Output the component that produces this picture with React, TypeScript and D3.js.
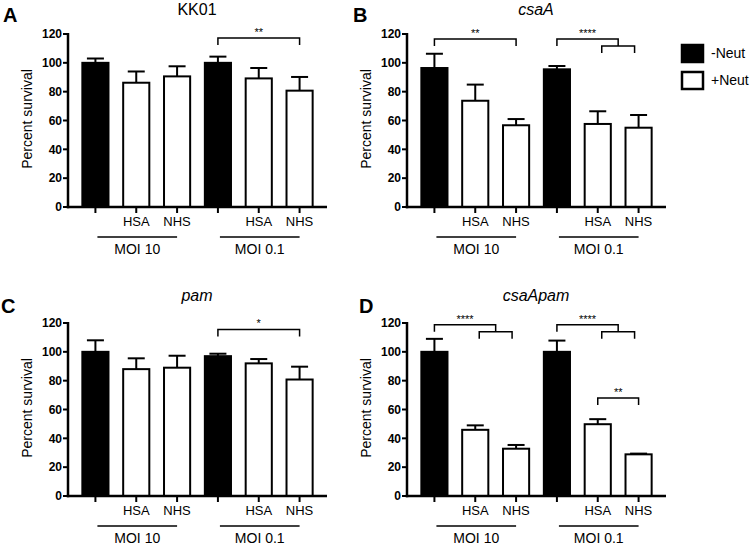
import React from "react";
import * as d3 from "d3";

const categories = ["MOI 10 -Neut", "MOI 10 HSA", "MOI 10 NHS", "MOI 0.1 -Neut", "MOI 0.1 HSA", "MOI 0.1 NHS"];
const catLabels = ["", "HSA", "NHS", "", "HSA", "NHS"];
const neutStatus = ["-Neut", "+Neut", "+Neut", "-Neut", "+Neut", "+Neut"];
const groups = [
  { label: "MOI 10", first: 0, last: 2 },
  { label: "MOI 0.1", first: 3, last: 5 },
];
const yTicks = [0, 20, 40, 60, 80, 100, 120];
const legendItems = ["-Neut", "+Neut"];

const kk01Mean = [100, 86.2, 90.6, 100, 89.2, 80.7];
const kk01Err = [3, 7.8, 7, 4.3, 7.2, 9.5];
const csaAMean = [96.4, 73.7, 56.7, 95.5, 57.6, 55];
const csaAErr = [9.9, 11.2, 4.3, 2.3, 8.8, 8.8];
const pamMean = [100, 88, 89, 97, 92, 80.8];
const pamErr = [8, 7.5, 8.3, 1.7, 3, 8.9];
const csaApamMean = [100, 45.9, 32.8, 100, 49.8, 28.9];
const csaApamErr = [9, 3.1, 2.6, 7.8, 3.5, 0.5];

// significance brackets: simple (a->b) or nested (a -> [b,c])
type Sig = { a: number; b: number; c?: number; level: number; label: string };
const kk01Sig: Sig[] = [{ a: 3, b: 5, level: 117.2, label: "**" }];
const csaASig: Sig[] = [
  { a: 0, b: 2, level: 116.5, label: "**" },
  { a: 3, b: 4, c: 5, level: 116.5, label: "****" },
];
const pamSig: Sig[] = [{ a: 3, b: 5, level: 115.5, label: "*" }];
const csaApamSig: Sig[] = [
  { a: 0, b: 1, c: 2, level: 118.8, label: "****" },
  { a: 3, b: 4, c: 5, level: 118.8, label: "****" },
  { a: 4, b: 5, level: 68, label: "**" },
];

const panels = [
  { letter: "A", title: "KK01", italic: false, mean: kk01Mean, err: kk01Err, sig: kk01Sig, x0: 68, dy: 0, lx: 3 },
  { letter: "B", title: "csaA", italic: true, mean: csaAMean, err: csaAErr, sig: csaASig, x0: 407, dy: 0, lx: 353 },
  { letter: "C", title: "pam", italic: true, mean: pamMean, err: pamErr, sig: pamSig, x0: 68, dy: 289, lx: 1 },
  { letter: "D", title: "csaApam", italic: true, mean: csaApamMean, err: csaApamErr, sig: csaApamSig, x0: 407, dy: 289, lx: 359 },
];

const FONT = "'Liberation Sans', Arial, sans-serif";

function Panel({ p }: { p: (typeof panels)[number] }) {
  const y = d3.scaleLinear().domain([0, 120]).range([207 + p.dy, 34 + p.dy]);
  const x = d3
    .scaleBand<string>()
    .domain(categories)
    .range([p.x0 + 7, p.x0 + 252])
    .paddingInner(0.36)
    .paddingOuter(0.18);
  const bw = x.bandwidth();
  const cx = (i: number) => (x(categories[i]) as number) + bw / 2;
  const y0 = y(0);
  const capW = 17;
  const leg = 7;
  const titleY = p.dy ? 12 + p.dy : 14.5;

  return (
    <g>
      <text x={p.lx} y={22 + p.dy + (p.dy ? 2 : 0)} fontSize={20} fontWeight="bold" fontFamily={FONT}>
        {p.letter}
      </text>
      <text
        x={p.x0 + 129}
        y={titleY}
        fontSize={16}
        fontStyle={p.italic ? "italic" : "normal"}
        textAnchor="middle"
        fontFamily={FONT}
      >
        {p.title}
      </text>
      <text
        transform={`translate(${p.x0 - 36},${119 + p.dy}) rotate(-90)`}
        fontSize={14}
        textAnchor="middle"
        fontFamily={FONT}
      >
        Percent survival
      </text>
      {p.mean.map((m, i) => (
        <g key={i}>
          <line x1={cx(i)} x2={cx(i)} y1={y(m)} y2={y(m + p.err[i])} stroke="#000" strokeWidth={2} />
          <line x1={cx(i) - capW / 2} x2={cx(i) + capW / 2} y1={y(m + p.err[i])} y2={y(m + p.err[i])} stroke="#000" strokeWidth={2} />
          <rect
            x={x(categories[i])}
            y={y(m)}
            width={bw}
            height={y0 - y(m)}
            fill={neutStatus[i] === "-Neut" ? "#000" : "#fff"}
            stroke="#000"
            strokeWidth={2}
          />
        </g>
      ))}
      <line x1={p.x0} x2={p.x0} y1={y(120) - 1} y2={y0 + 1.25} stroke="#000" strokeWidth={2.5} />
      {yTicks.map((t) => (
        <g key={t}>
          <line x1={p.x0 - 5} x2={p.x0} y1={y(t)} y2={y(t)} stroke="#000" strokeWidth={2} />
          <text x={p.x0 - 6} y={y(t) + 4.3} fontSize={12} fontWeight="bold" textAnchor="end" fontFamily={FONT}>
            {t}
          </text>
        </g>
      ))}
      <line x1={p.x0 - 1.25} x2={p.x0 + 259} y1={y0} y2={y0} stroke="#000" strokeWidth={2.5} />
      {categories.map((c, i) => (
        <g key={c}>
          <line x1={cx(i)} x2={cx(i)} y1={y0} y2={y0 + 6} stroke="#000" strokeWidth={2} />
          <text x={cx(i)} y={y0 + 19} fontSize={13} textAnchor="middle" fontFamily={FONT}>
            {catLabels[i]}
          </text>
        </g>
      ))}
      {groups.map((g) => (
        <g key={g.label}>
          <line x1={cx(g.first) + 2} x2={cx(g.last)} y1={y0 + 30} y2={y0 + 30} stroke="#000" strokeWidth={1.5} />
          <text x={(cx(g.first) + cx(g.last)) / 2 + 1} y={y0 + 47} fontSize={14} textAnchor="middle" fontFamily={FONT}>
            {g.label}
          </text>
        </g>
      ))}
      {p.sig.map((s, k) => {
        const top = y(s.level);
        if (s.c === undefined) {
          const xa = cx(s.a);
          const xb = cx(s.b);
          return (
            <g key={k}>
              <path d={`M${xa},${top + leg}V${top}H${xb}V${top + leg}`} fill="none" stroke="#000" strokeWidth={1.5} />
              <text x={(xa + xb) / 2} y={top - 2} fontSize={11} textAnchor="middle" fontFamily={FONT}>
                {s.label}
              </text>
            </g>
          );
        }
        const xa = cx(s.a);
        const xb = cx(s.b) + 4;
        const xc = cx(s.c) - 4;
        const xm = (xb + xc) / 2;
        return (
          <g key={k}>
            <path d={`M${xa},${top + leg}V${top}H${xm}V${top + leg}`} fill="none" stroke="#000" strokeWidth={1.5} />
            <path d={`M${xb},${top + 2 * leg}V${top + leg}H${xc}V${top + 2 * leg}`} fill="none" stroke="#000" strokeWidth={1.5} />
            <text x={(xa + xm) / 2} y={top - 2} fontSize={11} textAnchor="middle" fontFamily={FONT}>
              {s.label}
            </text>
          </g>
        );
      })}
    </g>
  );
}

export default function App() {
  return (
    <div style={{ position: "absolute", left: 0, top: 0 }}>
      <svg width={750} height={545} style={{ display: "block", background: "#fff" }}>
        {panels.map((p) => (
          <Panel key={p.letter} p={p} />
        ))}
        {legendItems.map((l, i) => (
          <g key={l}>
            <rect
              x={682}
              y={45 + i * 27}
              width={21}
              height={17}
              fill={l === "-Neut" ? "#000" : "#fff"}
              stroke="#000"
              strokeWidth={2.5}
            />
            <text x={711} y={58 + i * 27} fontSize={14} fontFamily={FONT}>
              {l}
            </text>
          </g>
        ))}
      </svg>
    </div>
  );
}
